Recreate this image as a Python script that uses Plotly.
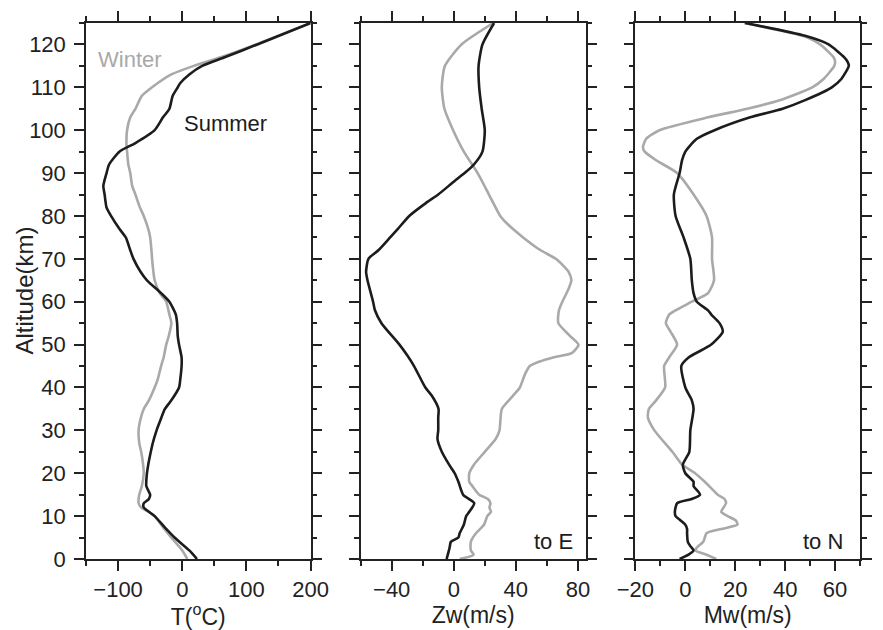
import plotly.graph_objects as go

# ---------------- data ----------------
t_sum_alt = [0, 2, 5, 7, 10, 11, 12, 13, 14, 15, 17, 20, 22, 25, 27, 30, 32, 35, 37, 40, 42, 45, 47, 50, 52, 55, 57, 60, 62, 65, 67, 70, 72, 75, 77, 80, 82, 85, 87, 90, 92, 95, 97, 100, 103, 105, 108, 110, 111, 113, 115, 117, 120, 125]
t_sum_val = [23, 11, -12, -25, -43, -52, -60, -60, -52, -50, -56, -55, -53, -49, -46, -40, -35, -27, -17, -5, -3, -1, -1, -5, -7, -8, -10, -20, -33, -55, -65, -76, -81, -88, -98, -111, -118, -121, -123, -118, -114, -98, -73, -43, -30, -20, -15, -7, -3, 11, 31, 66, 117, 200]

t_win_alt = [0, 2, 5, 7, 10, 11, 12, 13, 14, 15, 17, 20, 22, 25, 27, 30, 32, 35, 37, 40, 42, 45, 47, 50, 52, 55, 57, 60, 62, 65, 67, 70, 72, 75, 77, 80, 82, 85, 87, 90, 92, 95, 97, 100, 103, 105, 108, 110, 111, 113, 115, 117, 120, 125]
t_win_val = [8, 0, -17, -28, -43, -52, -64, -68, -68, -67, -63, -60, -61, -64, -67, -68, -66, -60, -52, -43, -38, -33, -29, -25, -21, -17, -20, -25, -35, -43, -45, -47, -48, -50, -53, -60, -66, -73, -78, -81, -84, -86, -87, -86, -81, -73, -63, -47, -38, -17, 18, 60, 115, 200]

zw_sum_alt = [0, 2, 3, 4, 5, 6, 8, 10, 11, 13, 15, 18, 20, 22, 25, 28, 30, 33, 35, 38, 40, 45, 47.5, 50, 55, 58, 60, 65, 67, 70, 72, 75, 77, 80, 83, 85, 88, 90, 92, 95, 100, 105, 110, 115, 120, 125]
zw_sum_val = [-4.6, -3.1, -2.5, -1.9, 3, 3.8, 6.5, 8, 10, 13.2, 6, 3, 0.6, -3, -7.7, -10.5, -10, -10, -9.8, -14, -18.3, -25.6, -30, -35, -46.6, -50.8, -52, -55.6, -56.5, -55, -48.6, -41, -36, -28.7, -18, -10, 0, 7, 13, 18.5, 20, 18, 16.4, 16, 18.5, 26]

zw_win_alt = [0, 1, 2, 4, 6, 8, 10, 11, 12, 13, 14, 15, 17, 18, 20, 22, 25, 28, 30, 32, 35, 38, 40, 43, 45, 46, 47, 48, 50, 52, 55, 58, 60, 63, 65, 67, 70, 72, 75, 78, 80, 85, 90, 95, 100, 105, 110, 115, 120, 125]
zw_win_val = [3.8, 12.8, 11, 11, 14.3, 19.5, 21.6, 24, 23, 23.7, 22, 16.4, 12, 10, 10, 13, 20, 27, 29.5, 30, 31, 38, 42.6, 45.8, 49, 55, 64, 76, 80.4, 75, 67.4, 67.8, 70, 74, 75.8, 74, 65.8, 56, 44.7, 35, 30, 22.7, 15.4, 6.5, -0.4, -6, -7.7, -5.7, 5, 25.5]

mw_sum_alt = [0, 1, 2, 3, 4, 6, 7, 8, 9, 10, 11, 13, 14, 15, 17, 18, 20, 22, 25, 30, 35, 37, 40, 45, 47, 50, 53, 55, 57, 58, 60, 62, 65, 70, 75, 80, 85, 90, 93, 95, 96, 98, 100, 103, 105, 107, 110, 112, 115, 116, 117, 120, 122, 125]
mw_sum_val = [-2.3, 1.3, 3.3, 2, 1, 0.7, 0.7, 0, -1.9, -3.9, -4.2, -3.3, 2.6, 5.9, 3.3, 3.3, 0, -1, 1.6, 2, 3.3, 2.6, 0, -1.6, 1.3, 10.4, 15, 13.7, 10.4, 9.1, 4.6, 3.3, 2.6, 2, -0.7, -3.9, -4.6, -2.3, -1.3, 0, 1.3, 4.6, 11.7, 26, 39, 48, 58.7, 62.6, 65.5, 65, 63.7, 57.4, 48, 24]

mw_win_alt = [0, 1, 2, 3, 4, 6, 7, 8, 9, 10, 11, 13, 14, 15, 18, 20, 22, 25, 30, 33, 35, 37, 40, 45, 47, 50, 53, 55, 57, 58, 60, 62, 65, 70, 75, 80, 85, 90, 93, 95, 96, 98, 100, 103, 105, 107, 110, 112, 115, 116, 117, 120, 122, 125]
mw_win_val = [12.4, 8.5, 3.9, 5.2, 7.2, 8.5, 14.4, 20.9, 20.2, 17, 14.4, 16.3, 15.7, 13, 7.8, 3.9, -1.3, -5.2, -12.4, -15, -14.6, -11.7, -8.1, -8.5, -6.5, -3.3, -5.9, -7.8, -6.5, -3.9, 2.6, 9.1, 11.5, 10.7, 10.7, 8.5, 3.3, -3.3, -11.7, -16.3, -17, -15.7, -10.4, 9.1, 24.8, 37.8, 50.9, 55.5, 59.7, 60, 59.4, 54, 47, 23.5]

x_titles = ["T(<sup>o</sup>C)", "Zw(m/s)", "Mw(m/s)"]
x_ranges = [[-150, 200], [-60, 85], [-20, 70]]
x_dticks = [100, 40, 20]
y_title = "Altitude(km)"

# ---------------- figure ----------------
BLACK = "#1c1c1c"
GRAY = "#a9a9a9"
AX = "#222222"
FONT = "Liberation Sans, Arial, Helvetica, sans-serif"

fig = go.Figure()
series = [
    (t_sum_alt, t_sum_val, t_win_alt, t_win_val),
    (zw_sum_alt, zw_sum_val, zw_win_alt, zw_win_val),
    (mw_sum_alt, mw_sum_val, mw_win_alt, mw_win_val),
]
for i, (sa, sv, wa, wv) in enumerate(series):
    xa = "x" if i == 0 else f"x{i+1}"
    ya = "y" if i == 0 else f"y{i+1}"
    fig.add_trace(go.Scatter(x=wv, y=wa, mode="lines", xaxis=xa, yaxis=ya,
                             line=dict(color=GRAY, width=2.6, shape="spline", smoothing=0.6),
                             showlegend=False, hoverinfo="skip"))
    fig.add_trace(go.Scatter(x=sv, y=sa, mode="lines", xaxis=xa, yaxis=ya,
                             line=dict(color=BLACK, width=2.6, shape="spline", smoothing=0.6),
                             showlegend=False, hoverinfo="skip"))

W, H = 883, 630
ml, mr, mt, mb = 86, 4.3, 22.7, 71.3
pw = W - ml - mr
px_domains = [(86, 316), (367.3, 597.7), (648.7, 878.7)]
domains = [[(a - ml) / pw, (b - ml) / pw] for a, b in px_domains]

common = dict(showline=True, linecolor=AX, linewidth=1.5, mirror="ticks",
              ticks="outside", ticklen=10, tickwidth=1.5, tickcolor=AX,
              showgrid=False, zeroline=False,
              tickfont=dict(family=FONT, size=22, color=AX))

layout = dict(width=W, height=H, margin=dict(l=ml, r=mr, t=mt, b=mb),
              paper_bgcolor="white", plot_bgcolor="white",
              font=dict(family=FONT, color=AX))
for i in range(3):
    xk = "xaxis" if i == 0 else f"xaxis{i+1}"
    yk = "yaxis" if i == 0 else f"yaxis{i+1}"
    layout[xk] = dict(common, domain=domains[i], range=x_ranges[i], dtick=x_dticks[i], tick0=0,
                      anchor="y" if i == 0 else f"y{i+1}",
                      minor=dict(dtick=x_dticks[i] / 2, tick0=0, ticklen=5, tickwidth=1.5, tickcolor=AX, ticks="outside"),
                      title=dict(text=x_titles[i], font=dict(family=FONT, size=23, color=AX), standoff=4))
    layout[yk] = dict(common, domain=[0, 1], range=[0, 125], dtick=10, tick0=0,
                      anchor="x" if i == 0 else f"x{i+1}",
                      showticklabels=(i == 0),
                      minor=dict(dtick=5, tick0=0, ticklen=5, tickwidth=1.5, tickcolor=AX, ticks="outside"))
layout["yaxis"]["ticklabelstandoff"] = 4
fig.update_layout(**layout)

# y-axis title placed precisely
fig.add_annotation(text=y_title, textangle=-90, x=(22 - ml) / pw, y=0.5, xref="paper", yref="paper",
                   showarrow=False, xanchor="center", yanchor="middle",
                   font=dict(family=FONT, size=24, color=AX))

ann_font = dict(family=FONT, size=22)
fig.add_annotation(text="Winter", x=-81, y=116.5, xref="x", yref="y", showarrow=False,
                   font=dict(ann_font, color=GRAY))
fig.add_annotation(text="Summer", x=68, y=101.5, xref="x", yref="y", showarrow=False,
                   font=dict(ann_font, color=BLACK))
fig.add_annotation(text="to E", x=78, y=0.8, xref="x2", yref="y2", showarrow=False,
                   xanchor="right", yanchor="bottom", font=dict(ann_font, color=BLACK))
fig.add_annotation(text="to N", x=64, y=0.8, xref="x3", yref="y3", showarrow=False,
                   xanchor="right", yanchor="bottom", font=dict(ann_font, color=BLACK))

fig.write_html("out.html")
